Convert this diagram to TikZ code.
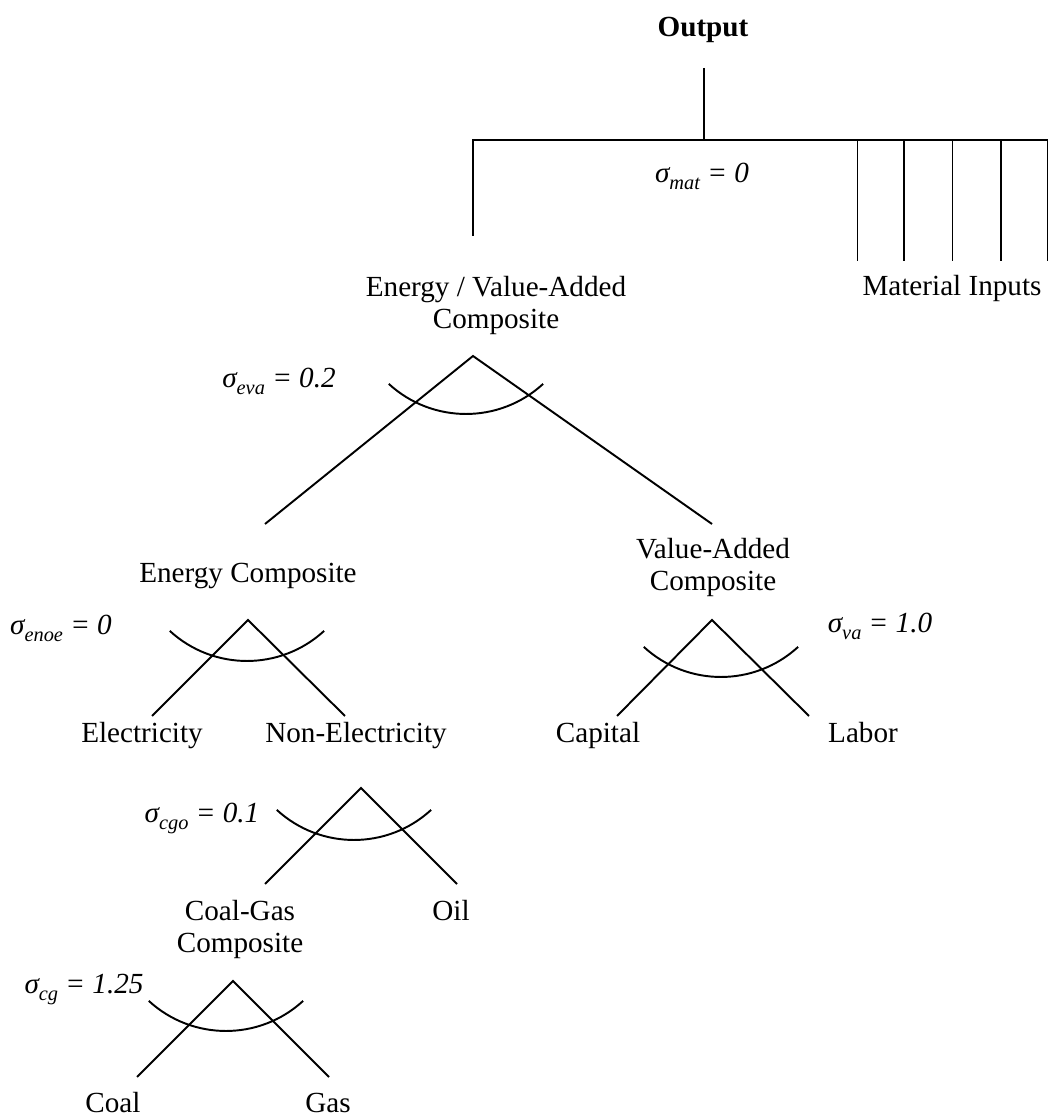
\documentclass[tikz,border=0pt]{standalone}
\usepackage{fontspec}
\setmainfont{Liberation Serif}
\usetikzlibrary{positioning}
\newcommand{\elas}[2]{\textit{σ\raisebox{-3.5pt}{\fontsize{11.6pt}{12pt}\selectfont #1} = #2}}

\begin{document}
\begin{tikzpicture}[
    x=0.02cm, y=0.02cm,
    lbl/.style={inner sep=0pt, anchor=base, align=center, font=\fontsize{16.6pt}{18.6pt}\selectfont},
    ln/.style={line width=1.1pt}
]
    \useasboundingbox (0,0) rectangle (1049,1117);

    % top level: output, materials
    \node[lbl, font=\fontsize{16.6pt}{18.6pt}\selectfont\bfseries] (output) at (703,1080) {Output};
    \node[lbl] (matsig) at (702,934) {\elas{mat}{0}};
    \node[lbl] (evacomp) at (496,788) {Energy / Value-Added\\Composite};
    \node[lbl] (matin) at (952,821) {Material Inputs};

    \coordinate (stem) at (704,1049);
    \coordinate (fork) at (704,977);
    \coordinate (bar-l) at (473,977);
    \coordinate (bar-r) at (1047.5,977);
    \coordinate (eva-in) at (473,881);
    \foreach \x [count=\i] in {857.5,904,952.5,1000.7,1047.5}
        \coordinate (mat-\i) at (\x,856);

    \draw[ln] (stem) -- (fork);
    \draw[ln] (eva-in) -- (bar-l) -- (bar-r) -- (mat-5);
    \foreach \i in {1,...,4}
        \draw[ln] (mat-\i) -- (mat-\i |- bar-l);

    % energy / value-added nest
    \node[lbl] (evasig) at (279,729) {\elas{eva}{0.2}};
    \node[lbl] (encomp) at (248,534) {Energy Composite};
    \node[lbl] (vacomp) at (713,526) {Value-Added\\Composite};

    \coordinate (eva-top) at (473,761);
    \coordinate (eva-l) at (265,593);
    \coordinate (eva-r) at (712,593);
    \coordinate (eva-arc) at (466,703);
    \draw[ln] (eva-l) -- (eva-top) -- (eva-r);

    % energy composite
    \node[lbl] (enoesig) at (61,482) {\elas{enoe}{0}};
    \node[lbl] (elec) at (142,374) {Electricity};
    \node[lbl] (nonelec) at (356,374) {Non-Electricity};

    \coordinate (en-top) at (248,497);
    \coordinate (en-l) at (152,401);
    \coordinate (en-r) at (345,401);
    \coordinate (en-arc) at (247,456);
    \draw[ln] (en-l) -- (en-top) -- (en-r);

    % value-added composite
    \node[lbl] (vasig) at (880,484) {\elas{va}{1.0}};
    \node[lbl] (capital) at (598,374) {Capital};
    \node[lbl] (labor) at (863,374) {Labor};

    \coordinate (va-top) at (712,497);
    \coordinate (va-l) at (617,401);
    \coordinate (va-r) at (809,401);
    \coordinate (va-arc) at (721,440);
    \draw[ln] (va-l) -- (va-top) -- (va-r);

    % non-electricity
    \node[lbl] (cgosig) at (202,294) {\elas{cgo}{0.1}};
    \node[lbl] (cgcomp) at (240,164) {Coal-Gas\\Composite};
    \node[lbl] (oil) at (451,196) {Oil};

    \coordinate (cgo-top) at (361,329);
    \coordinate (cgo-l) at (265,233);
    \coordinate (cgo-r) at (457,233);
    \coordinate (cgo-arc) at (354,277);
    \draw[ln] (cgo-l) -- (cgo-top) -- (cgo-r);

    % coal-gas composite
    \node[lbl] (cgsig) at (84,123) {\elas{cg}{1.25}};
    \node[lbl] (coal) at (113,5) {Coal};
    \node[lbl] (gas) at (328,5) {Gas};

    \coordinate (cg-top) at (233,136);
    \coordinate (cg-l) at (137,40);
    \coordinate (cg-r) at (329,40);
    \coordinate (cg-arc) at (226,86);
    \draw[ln] (cg-l) -- (cg-top) -- (cg-r);

    % substitution arcs
    \foreach \b in {eva-arc, en-arc, va-arc, cgo-arc, cg-arc}
        \draw[ln] ([shift={(-77.2,30.1)}]\b) arc[start angle=227.4, end angle=312.6, radius=114];
\end{tikzpicture}
\end{document}
